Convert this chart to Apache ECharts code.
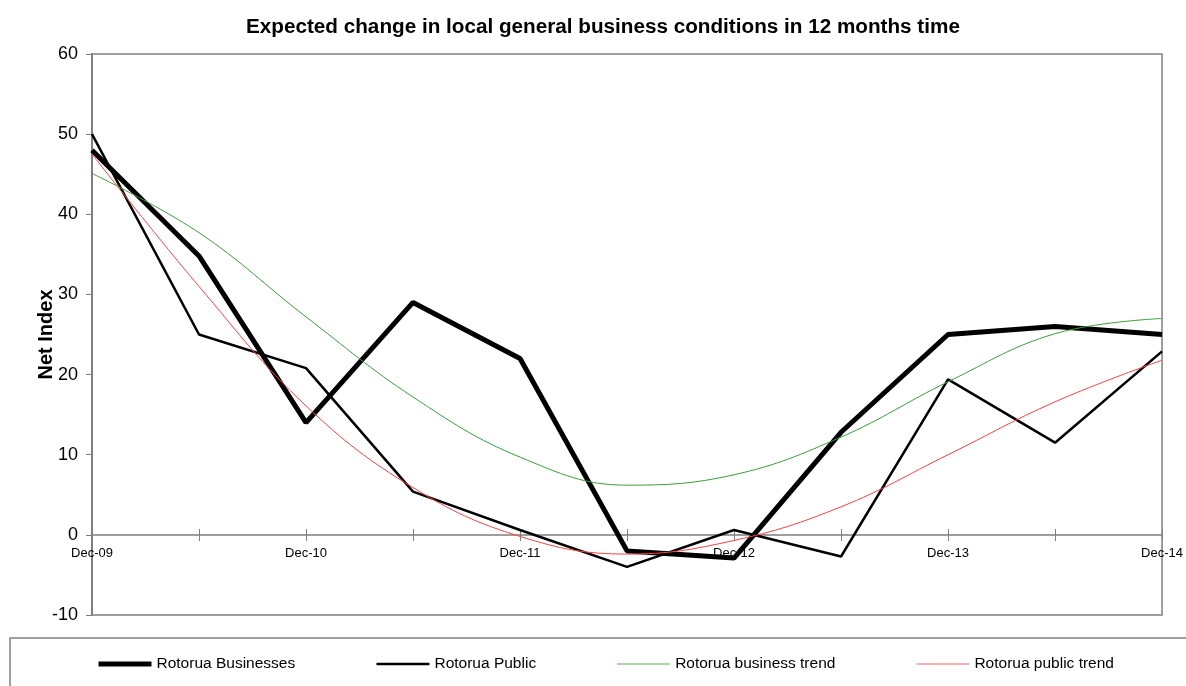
<!DOCTYPE html>
<html>
<head>
    <meta charset="utf-8">
    <title>Rotorua business conditions</title>
    <script src="https://cdn.jsdelivr.net/npm/echarts@6/dist/echarts.min.js"></script>
    <style>
        html, body {margin: 0; padding: 0; background: #fff;}
        #main {width: 1186px; height: 686px;}
    </style>
</head>
<body>
<div id="main"></div>
<script>
    var periods = ['Dec-09', 'Jun-10', 'Dec-10', 'Jun-11', 'Dec-11', 'Jun-12',
        'Dec-12', 'Jun-13', 'Dec-13', 'Jun-14', 'Dec-14'];
    var businesses = [48, 34.8, 14, 29, 22, -2, -2.9, 12.8, 25, 26, 25];
    var publicIdx = [50, 25, 20.8, 5.4, 0.6, -4, 0.6, -2.7, 19.4, 11.5, 22.9];
    var businessTrend = [45.1, 37.7, 27.2, 17.2, 9.7, 6.2, 7.5, 12.2, 19.1, 25.1, 27.0];
    var publicTrend = [47.5, 31, 16.1, 5.9, -0.2, -2.4, -0.7, 3.5, 10, 16.6, 21.8];

    var font = 'Liberation Sans, Arial, sans-serif';
    var gray = '#7f7f7f';
    var green = '#3a9e3a';
    var red = '#ff4040';

    // x axis sits on the zero line: 80px above the bottom of the plot
    var zeroOffset = -80;

    var myChart = echarts.init(document.getElementById('main'));
    var option = {
        animation: false,
        title: {
            text: 'Expected change in local general business conditions in 12 months time',
            left: 241,
            top: 12,
            textStyle: {fontFamily: font, fontWeight: 'bold', fontSize: 20.7, color: '#000'}
        },
        graphic: [{
            type: 'rect',
            shape: {x: 10, y: 638, width: 1200, height: 100},
            style: {fill: 'none', stroke: gray, lineWidth: 1.5},
            silent: true
        }],
        legend: {
            left: 96,
            top: 656,
            padding: 0,
            itemWidth: 53,
            itemHeight: 10,
            itemGap: 80,
            itemStyle: {opacity: 0},
            textStyle: {fontFamily: font, fontSize: 15.5, color: '#000'},
            data: [
                {name: 'Rotorua Businesses', lineStyle: {width: 5, color: '#000'}},
                {name: 'Rotorua Public', lineStyle: {width: 2.5, color: '#000'}},
                {name: 'Rotorua business trend', lineStyle: {width: 2, color: '#a8d8a8'}},
                {name: 'Rotorua public trend', lineStyle: {width: 2, color: '#ffb0b0'}}
            ]
        },
        grid: {
            left: 92, right: 23, top: 54, bottom: 71,
            show: true, borderColor: gray, borderWidth: 1.5
        },
        xAxis: [{
            type: 'category',
            data: periods,
            boundaryGap: false,
            position: 'bottom',
            offset: zeroOffset,
            axisLine: {onZero: false, lineStyle: {color: gray, width: 1.5}},
            axisTick: {show: true, inside: false, length: 6, interval: 0, lineStyle: {color: gray}},
            axisLabel: {interval: 1, margin: 12, fontFamily: font, fontSize: 13, color: '#000'}
        }, {
            type: 'category',
            data: periods,
            boundaryGap: false,
            position: 'bottom',
            offset: zeroOffset,
            axisLine: {show: false, onZero: false},
            axisTick: {show: true, inside: true, length: 6, interval: 0, lineStyle: {color: gray}},
            axisLabel: {show: false}
        }],
        yAxis: {
            type: 'value',
            min: -10,
            max: 60,
            interval: 10,
            name: 'Net Index',
            nameLocation: 'middle',
            nameGap: 36,
            nameMoveOverlap: false,
            nameTextStyle: {fontFamily: font, fontWeight: 'bold', fontSize: 20, color: '#000'},
            axisLine: {show: true, lineStyle: {color: gray, width: 2}},
            axisTick: {show: true, length: 6, lineStyle: {color: gray}},
            axisLabel: {margin: 14, fontFamily: font, fontSize: 18, color: '#000'},
            splitLine: {show: false}
        },
        series: [{
            name: 'Rotorua Businesses',
            type: 'line',
            data: businesses,
            symbol: 'none',
            lineStyle: {color: '#000', width: 5},
            itemStyle: {color: '#000'}
        }, {
            name: 'Rotorua Public',
            type: 'line',
            data: publicIdx,
            symbol: 'none',
            lineStyle: {color: '#000', width: 2.5},
            itemStyle: {color: '#000'}
        }, {
            name: 'Rotorua business trend',
            type: 'line',
            data: businessTrend,
            symbol: 'none',
            smooth: 0.4,
            lineStyle: {color: green, width: 1},
            itemStyle: {color: green}
        }, {
            name: 'Rotorua public trend',
            type: 'line',
            data: publicTrend,
            symbol: 'none',
            smooth: 0.4,
            lineStyle: {color: red, width: 1},
            itemStyle: {color: red}
        }]
    };
    myChart.setOption(option);
</script>
</body>
</html>
